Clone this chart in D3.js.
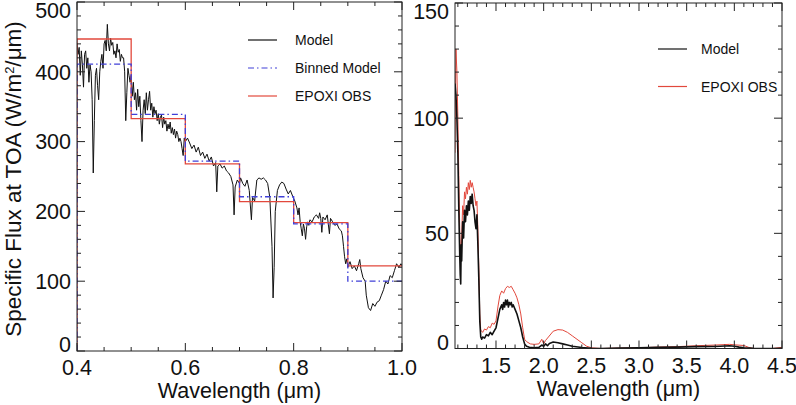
<!DOCTYPE html>
<html><head><meta charset="utf-8">
<script src="https://cdn.jsdelivr.net/npm/d3@7"></script>
<style>
html,body{margin:0;padding:0;background:#fff;}
svg{display:block;font-family:"Liberation Sans",Arial,Helvetica,sans-serif;}
</style></head>
<body><svg id="chart" width="796" height="405"></svg>
<script>
// ---------- DATA ----------
const leftModelWl = [0.400,0.402,0.404,0.406,0.408,0.410,0.412,0.414,0.416,0.418,0.420,0.422,0.424,0.426,0.428,0.430,0.432,0.434,0.436,0.438,0.440,0.442,0.444,0.446,0.448,0.450,0.452,0.454,0.456,0.458,0.460,0.462,0.464,0.466,0.468,0.470,0.472,0.474,0.476,0.478,0.480,0.482,0.484,0.486,0.488,0.490,0.492,0.494,0.496,0.498,0.500,0.502,0.504,0.506,0.508,0.510,0.512,0.514,0.516,0.518,0.520,0.522,0.524,0.526,0.528,0.530,0.532,0.534,0.536,0.538,0.540,0.542,0.544,0.546,0.548,0.550,0.552,0.554,0.556,0.558,0.560,0.562,0.564,0.566,0.568,0.570,0.572,0.574,0.576,0.578,0.580,0.582,0.584,0.586,0.588,0.590,0.592,0.594,0.596,0.598,0.600,0.604,0.608,0.612,0.616,0.620,0.624,0.628,0.632,0.636,0.640,0.644,0.648,0.652,0.656,0.658,0.660,0.664,0.668,0.672,0.676,0.680,0.684,0.688,0.690,0.692,0.696,0.700,0.702,0.706,0.710,0.714,0.718,0.722,0.724,0.728,0.732,0.736,0.740,0.744,0.748,0.752,0.756,0.760,0.762,0.764,0.766,0.770,0.774,0.778,0.782,0.786,0.790,0.794,0.798,0.802,0.806,0.808,0.810,0.812,0.814,0.816,0.818,0.820,0.822,0.824,0.826,0.828,0.830,0.834,0.838,0.842,0.846,0.848,0.850,0.852,0.854,0.858,0.862,0.866,0.868,0.872,0.876,0.880,0.884,0.888,0.890,0.892,0.894,0.896,0.898,0.900,0.904,0.908,0.912,0.916,0.920,0.922,0.924,0.928,0.932,0.934,0.938,0.942,0.946,0.950,0.954,0.958,0.962,0.966,0.970,0.974,0.978,0.982,0.986,0.990,0.994,0.998,1.000];
const leftModelFlux = [440,425,435,395,430,410,378,425,430,405,420,385,410,400,360,255,330,395,405,380,360,400,415,425,405,440,445,430,468,440,430,448,438,442,425,430,420,440,428,432,415,425,420,420,400,330,370,405,395,385,395,365,385,360,370,345,375,350,365,330,300,345,360,340,370,345,360,372,345,355,335,350,340,345,330,340,325,335,338,320,335,325,330,315,325,318,328,312,320,310,318,305,315,310,300,305,300,290,280,305,300,305,298,290,295,285,292,280,285,276,282,272,278,265,270,228,265,268,262,265,258,255,250,238,195,235,245,240,248,240,236,245,230,188,220,215,245,248,246,248,245,240,220,150,76,120,200,230,238,242,240,232,225,230,222,215,205,195,205,185,175,165,182,175,160,178,185,180,188,185,192,195,190,198,190,170,192,188,195,168,190,185,180,182,175,172,165,150,135,125,132,120,128,118,122,115,125,131,118,105,100,80,62,58,68,64,70,72,80,88,100,96,108,105,115,125,120,125,122];

const binEdges = [0.4,0.5,0.6,0.7,0.8,0.9,1.0];
const binnedModel = [411,339,272,221,182,100];
const epoxiBinned = [447,333,268,214,184,122];

const rightModelWl = [1.07,1.08,1.09,1.10,1.11,1.12,1.125,1.13,1.135,1.14,1.15,1.16,1.17,1.18,1.19,1.20,1.21,1.22,1.23,1.24,1.25,1.26,1.27,1.28,1.29,1.30,1.31,1.32,1.33,1.34,1.35,1.36,1.38,1.40,1.42,1.44,1.46,1.48,1.50,1.52,1.54,1.56,1.57,1.58,1.59,1.60,1.61,1.62,1.63,1.64,1.65,1.66,1.67,1.68,1.70,1.72,1.74,1.76,1.78,1.80,1.82,1.85,1.90,1.95,1.98,2.00,2.02,2.04,2.06,2.10,2.15,2.20,2.25,2.30,2.40,2.50,2.6,2.8,3.0,3.2,3.4,3.6,3.8,3.95,4.0,4.05,4.1,4.2,4.3,4.4,4.5];
const rightModelFlux = [115,110,100,85,60,40,32,28,45,38,55,48,60,55,62,58,64,60,66,63,67,62,60,55,52,58,45,30,12,5,4,5,4.5,6,5.5,7,6,7.5,9,13,17,19,17,20,18,21,19,21,18,20,19,20,18,19,17,15,12,9,5,2,1,0.5,0.3,0.5,1.5,1,2,1.2,2.2,2.8,2.5,2,1.5,1,0.4,0.1,0,0.2,0.3,0.5,0.6,0.8,0.9,1.2,1,0.6,0.3,0.1,0,0,0.1];

const rightObsWl = [1.07,1.075,1.08,1.09,1.10,1.11,1.12,1.13,1.14,1.15,1.16,1.17,1.18,1.19,1.20,1.21,1.22,1.23,1.24,1.25,1.26,1.27,1.28,1.29,1.30,1.31,1.32,1.33,1.34,1.36,1.38,1.40,1.42,1.44,1.46,1.48,1.50,1.52,1.54,1.56,1.58,1.60,1.62,1.64,1.66,1.68,1.70,1.72,1.74,1.76,1.78,1.80,1.82,1.86,1.90,1.95,1.98,2.00,2.02,2.05,2.10,2.15,2.20,2.25,2.30,2.35,2.40,2.45,2.50,2.6,2.8,3.0,3.2,3.4,3.6,3.8,3.95,4.0,4.1,4.15,4.2,4.4,4.5];
const rightObsFlux = [85,110,130,120,100,75,50,38,48,62,58,68,65,70,67,72,69,73,70,72,70,68,65,62,64,52,35,15,8,7,8.5,8,9.5,9,11,10.5,12,18,23,25,24,26,27,26.5,27,25.5,24,22,19,15,9,4,3,2,1.8,2,4,2,3.5,5,7.5,8.2,8,7,5.5,4,2.5,1,0.3,0,0.2,0.3,0.6,0.8,1.2,1.5,1.8,1.6,1.3,0.5,0,0,0.5];

const leftXTicks = [0.4,0.6,0.8,1.0];
const leftYTicks = [0,100,200,300,400,500];
const rightXTicks = [1.5,2.0,2.5,3.0,3.5,4.0,4.5];
const rightYTicks = [0,50,100,150];

const legendLeft = ["Model","Binned Model","EPOXI OBS"];
const legendRight = ["Model","EPOXI OBS"];

// ---------- STYLE ----------
const RED = "#e2483c", BLUE = "#4040d8", BLACK = "#111";
const svg = d3.select("#chart");

function panel(cfg){
  const g = svg.append("g");
  const x = d3.scaleLinear().domain(cfg.xd).range([cfg.x0,cfg.x1]);
  const y = d3.scaleLinear().domain(cfg.yd).range([cfg.y1,cfg.y0]);
  const id = "clip"+cfg.name;
  svg.append("clipPath").attr("id",id).append("rect")
    .attr("x",cfg.x0).attr("y",cfg.y0).attr("width",cfg.x1-cfg.x0).attr("height",cfg.y1-cfg.y0);
  const plot = g.append("g").attr("clip-path",`url(#${id})`);
  g.append("rect").attr("x",cfg.x0).attr("y",cfg.y0).attr("width",cfg.x1-cfg.x0).attr("height",cfg.y1-cfg.y0)
    .attr("fill","none").attr("stroke","#222").attr("stroke-width",1);
  const tk = g.append("g").attr("stroke","#222").attr("stroke-width",1);
  const majL=8, minL=4;
  d3.range(cfg.xMinor[0], cfg.xMinor[1]+1e-9, cfg.xMinor[2]).forEach(v=>{
    if (v < cfg.xd[0]-1e-9 || v > cfg.xd[1]+1e-9) return;
    const isMaj = cfg.xTicks.some(t=>Math.abs(t-v)<1e-6);
    const L = isMaj?majL:minL, px = x(v);
    tk.append("line").attr("x1",px).attr("x2",px).attr("y1",cfg.y1).attr("y2",cfg.y1-L);
    tk.append("line").attr("x1",px).attr("x2",px).attr("y1",cfg.y0).attr("y2",cfg.y0+L);
  });
  d3.range(cfg.yMinor[0], cfg.yMinor[1]+1e-9, cfg.yMinor[2]).forEach(v=>{
    const isMaj = cfg.yTicks.some(t=>Math.abs(t-v)<1e-6);
    const L = isMaj?majL:minL, py = y(v);
    tk.append("line").attr("x1",cfg.x0).attr("x2",cfg.x0+L).attr("y1",py).attr("y2",py);
    tk.append("line").attr("x1",cfg.x1).attr("x2",cfg.x1-L).attr("y1",py).attr("y2",py);
  });
  cfg.xTicks.forEach(v=>{
    g.append("text").attr("x",x(v)).attr("y",cfg.y1+24).attr("text-anchor","middle")
      .attr("font-size",21.5).attr("fill","#111").text(v.toFixed(1));
  });
  cfg.yTicks.forEach(v=>{
    let cy = y(v);
    cy = Math.max(cy, cfg.y0+8); cy = Math.min(cy, cfg.y1-6.5);
    g.append("text").attr("x",cfg.x0-6).attr("y",cy).attr("dy","0.36em").attr("text-anchor","end")
      .attr("font-size",21.5).attr("fill","#111").text(v);
  });
  g.append("text").attr("x",(cfg.x0+cfg.x1)/2).attr("y",cfg.y1+47).attr("text-anchor","middle")
    .attr("font-size",21.5).attr("fill","#111").text("Wavelength (μm)");
  return {g,plot,x,y};
}

// ---------- LEFT PANEL ----------
const L = panel({name:"L", xd:[0.4,1.0], yd:[0,500], x0:77, x1:402, y0:2, y1:351,
  xTicks:leftXTicks, yTicks:leftYTicks, xMinor:[0.4,1.0,0.05], yMinor:[0,500,20]});

function stepPts(edges, vals){
  const pts=[[edges[0],0]];
  vals.forEach((v,i)=>{ pts.push([edges[i],v]); pts.push([edges[i+1],v]); });
  return pts;
}
const lineL = d3.line().x(d=>L.x(d[0])).y(d=>L.y(d[1]));
L.plot.append("path").datum(leftModelWl.map((w,i)=>[w,leftModelFlux[i]]))
  .attr("d",lineL).attr("fill","none").attr("stroke",BLACK).attr("stroke-width",1).attr("stroke-linejoin","round");
L.plot.append("path").datum(stepPts(binEdges,epoxiBinned))
  .attr("d",lineL).attr("fill","none").attr("stroke",RED).attr("stroke-width",1.3);
L.plot.append("path").datum(stepPts(binEdges,binnedModel))
  .attr("d",lineL).attr("fill","none").attr("stroke",BLUE).attr("stroke-width",1.3).attr("stroke-dasharray","6,3,1.5,3");

const legL = L.g.append("g");
const legColorsL = [BLACK,BLUE,RED], legDashL=[null,"6,3,1.5,3",null];
legendLeft.forEach((t,i)=>{
  const yy = 40 + i*28;
  legL.append("line").attr("x1",248).attr("x2",277).attr("y1",yy).attr("y2",yy)
    .attr("stroke",legColorsL[i]).attr("stroke-width",1.2).attr("stroke-dasharray",legDashL[i]);
  legL.append("text").attr("x",295).attr("y",yy+5).attr("font-size",14).attr("fill","#111").text(t);
});

const yt = svg.append("text").attr("transform","translate(21,179) rotate(-90)").attr("text-anchor","middle")
  .attr("font-size",22.5).attr("fill","#111");
yt.append("tspan").text("Specific Flux at TOA (W/m");
yt.append("tspan").attr("font-size",13).attr("dy",-7).text("2");
yt.append("tspan").attr("dy",7).text("/μm)");

// ---------- RIGHT PANEL ----------
const R = panel({name:"R", xd:[1.07,4.5], yd:[0,150], x0:455, x1:782, y0:3, y1:348.5,
  xTicks:rightXTicks, yTicks:rightYTicks, xMinor:[1.1,4.5,0.1], yMinor:[0,150,10]});
const lineR = d3.line().x(d=>R.x(d[0])).y(d=>R.y(d[1]));
R.plot.append("path").datum(rightObsWl.map((w,i)=>[w,rightObsFlux[i]]))
  .attr("d",lineR).attr("fill","none").attr("stroke",RED).attr("stroke-width",1);
R.plot.append("path").datum(rightModelWl.map((w,i)=>[w,rightModelFlux[i]]))
  .attr("d",lineR).attr("fill","none").attr("stroke",BLACK).attr("stroke-width",1.6).attr("stroke-linejoin","round");

const legR = R.g.append("g");
const legColorsR=[BLACK,RED];
legendRight.forEach((t,i)=>{
  const yy = 49 + i*37.5;
  legR.append("line").attr("x1",658).attr("x2",687).attr("y1",yy).attr("y2",yy)
    .attr("stroke",legColorsR[i]).attr("stroke-width",1.2);
  legR.append("text").attr("x",701).attr("y",yy+5).attr("font-size",14).attr("fill","#111").text(t);
});
</script></body></html>
